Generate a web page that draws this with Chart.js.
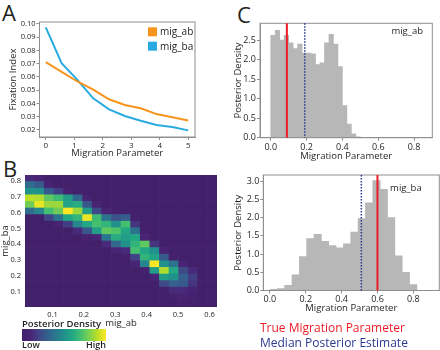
<!DOCTYPE html>
<html><head><meta charset="utf-8">
<script src="https://cdn.jsdelivr.net/npm/chart.js@4.4.1/dist/chart.umd.min.js"></script>
<style>
html,body{margin:0;padding:0;background:#fff}
body{width:440px;height:350px;position:relative;overflow:hidden;font-family:'Open Sans',sans-serif;color:#231f20}
canvas{position:absolute}
.t{position:absolute;white-space:nowrap}
.lbl{font-size:22px;line-height:22px}
</style></head><body>
<div class="t lbl" style="left:2px;top:1px">A</div>
<div class="t lbl" style="left:3px;top:157px">B</div>
<div class="t lbl" style="left:237px;top:3px">C</div>
<canvas id="cA" width="220" height="165" style="left:0;top:0"></canvas>
<canvas id="cB" width="220" height="185" style="left:0;top:165px"></canvas>
<canvas id="cC1" width="220" height="165" style="left:220px;top:0"></canvas>
<canvas id="cC2" width="220" height="150" style="left:220px;top:165px"></canvas>
<div class="t" style="left:22px;top:317px;height:14px;line-height:14px;font-size:9.5px;font-weight:600">Posterior Density</div>
<div id="cbar" style="position:absolute;left:22px;top:329px;width:84px;height:12px"></div>
<div class="t" style="left:22px;top:339px;height:12px;line-height:12px;font-size:9px;font-weight:600">Low</div>
<div class="t" style="left:76px;top:339px;width:30px;text-align:right;height:12px;line-height:12px;font-size:9px;font-weight:600">High</div>
<div class="t" style="left:260px;top:321px;height:14px;line-height:14px;font-size:12px;color:#ec1c24">True Migration Parameter</div>
<div class="t" style="left:260px;top:336px;height:14px;line-height:14px;font-size:12px;color:#2b3990">Median Posterior Estimate</div>
<script>
// ---------------- Panel A data ----------------
const migParam = [0, 0.556, 1.111, 1.667, 2.222, 2.778, 3.333, 3.889, 4.444, 5];
const fstAB = [0.0712, 0.0638, 0.0566, 0.0505, 0.0432, 0.0389, 0.0364, 0.0320, 0.0296, 0.0272];
const fstBA = [0.0975, 0.0705, 0.0578, 0.0439, 0.0356, 0.0306, 0.0270, 0.0238, 0.0222, 0.0197];
const aXTicks = [0, 1, 2, 3, 4, 5];
const aYTicks = [0.02, 0.03, 0.04, 0.05, 0.06, 0.07, 0.08, 0.09, 0.10];

// ---------------- Panel B data (2D posterior) ----------------
const hmXCenters = [0.0278, 0.0584, 0.0890, 0.1195, 0.1501, 0.1807, 0.2113, 0.2419, 0.2724, 0.3030,
                    0.3336, 0.3642, 0.3948, 0.4253, 0.4559, 0.4865, 0.5171, 0.5477, 0.5782, 0.6088];
const hmYEdges = [0.0054, 0.0469, 0.0885, 0.1300, 0.1715, 0.2131, 0.2546, 0.2961, 0.3376, 0.3792, 0.4207,
                  0.4622, 0.5038, 0.5453, 0.5868, 0.6284, 0.6699, 0.7114, 0.7529, 0.7945, 0.8360];
// rows listed from top (high mig_ba) to bottom
const hmDensity = [
 [.12,.10,0,0,0,0,0,0,0,0,0,0,0,0,0,0,0,0,0,0],
 [.35,.28,.08,0,0,0,0,0,0,0,0,0,0,0,0,0,0,0,0,0],
 [.50,.50,.28,.18,.06,0,0,0,0,0,0,0,0,0,0,0,0,0,0,0],
 [.90,.88,.75,.68,.55,.33,.08,0,0,0,0,0,0,0,0,0,0,0,0,0],
 [.78,.97,.85,.85,.58,.62,.27,.07,0,0,0,0,0,0,0,0,0,0,0,0],
 [.35,.45,.70,.78,1.0,.85,.55,.22,.08,.03,0,0,0,0,0,0,0,0,0,0],
 [0,0,.20,.38,.60,.65,.97,.68,.38,.25,.30,.03,0,0,0,0,0,0,0,0],
 [0,0,0,.08,.18,.45,.60,.70,.65,.50,.70,.15,0,0,0,0,0,0,0,0],
 [0,0,0,0,0,.12,.27,.55,.75,.72,.60,.38,.03,0,0,0,0,0,0,0],
 [0,0,0,0,0,0,.05,.10,.40,.62,.55,.60,.10,0,0,0,0,0,0,0],
 [0,0,0,0,0,0,0,0,.12,.33,.50,.65,.75,.15,0,0,0,0,0,0],
 [0,0,0,0,0,0,0,0,0,.10,.12,.70,.60,.50,.10,0,0,0,0,0],
 [0,0,0,0,0,0,0,0,0,0,.03,.20,.65,.58,.28,.03,0,0,0,0],
 [0,0,0,0,0,0,0,0,0,0,0,.10,.45,1.0,.50,.38,.10,0,0,0],
 [0,0,0,0,0,0,0,0,0,0,0,0,.05,.55,.88,.60,.22,.12,0,0],
 [0,0,0,0,0,0,0,0,0,0,0,0,0,.10,.55,.50,.30,.18,0,0],
 [0,0,0,0,0,0,0,0,0,0,0,0,0,0,.22,.30,.28,.15,0,0],
 [0,0,0,0,0,0,0,0,0,0,0,0,0,0,0,.12,.12,.08,0,0],
 [0,0,0,0,0,0,0,0,0,0,0,0,0,0,0,.04,.07,.04,0,0],
 [0,0,0,0,0,0,0,0,0,0,0,0,0,0,0,0,.04,.02,0,0]
];
const bXTicks = [0.1, 0.2, 0.3, 0.4, 0.5, 0.6];
const bYTicks = [0.1, 0.2, 0.3, 0.4, 0.5, 0.6, 0.7, 0.8];

// ---------------- Panel C data (posterior histograms) ----------------
const abBins = [0.0125, 0.0375, 0.0625, 0.0875, 0.1125, 0.1375, 0.1625, 0.1875, 0.2125, 0.2375,
                0.2625, 0.2875, 0.3125, 0.3375, 0.3625, 0.3875, 0.4125, 0.4375, 0.4625, 0.4875];
const abDensity = [2.62, 2.75, 2.50, 2.62, 2.43, 2.28, 2.40, 2.17, 2.17, 2.15,
                   1.87, 1.92, 2.43, 2.65, 2.40, 1.82, 0.82, 0.35, 0.10, 0.02];
const baBins = [0.0205, 0.0615, 0.1025, 0.1435, 0.1845, 0.2255, 0.2665, 0.3075, 0.3485, 0.3895,
                0.4305, 0.4715, 0.5125, 0.5535, 0.5945, 0.6355, 0.6765, 0.7175, 0.7585, 0.7995];
const baDensity = [0.03, 0.05, 0.14, 0.43, 0.93, 1.42, 1.54, 1.35, 1.23, 1.17,
                   1.28, 1.60, 1.97, 2.40, 3.01, 2.77, 2.00, 0.95, 0.50, 0.16];
const trueAB = 0.09, medianAB = 0.19;
const trueBA = 0.60, medianBA = 0.51;
const cXTicks = [0, 0.2, 0.4, 0.6, 0.8];
const c1YTicks = [0, 0.5, 1.0, 1.5, 2.0, 2.5];
const c2YTicks = [0, 0.5, 1.0, 1.5, 2.0, 2.5, 3.0];

// ---------------- helpers ----------------
const F = "'Open Sans', sans-serif";
const TXT = '#231f20';
const FRAME = '#8f8f8f';
const VIR = ['#43206a','#482475','#414487','#355f8d','#2a788e','#21918c','#22a884','#44bf70','#7ad151','#bddf26','#fde725'];
function h2r(h){return [1,3,5].map(i=>parseInt(h.slice(i,i+2),16));}
function viridis(t){
  t = Math.max(0, Math.min(1, t));
  const p = t*10, i = Math.min(9, Math.floor(p)), f = p - i;
  const a = h2r(VIR[i]), b = h2r(VIR[i+1]);
  return 'rgb(' + a.map((v,k)=>Math.round(v+(b[k]-v)*f)).join(',') + ')';
}
document.getElementById('cbar').style.background = 'linear-gradient(to right,' + VIR.join(',') + ')';

const framePlugin = {id:'frame', afterDatasetsDraw(chart, args, o){
  if (!o || !o.color) return;
  const {ctx, chartArea:a} = chart; ctx.save(); ctx.strokeStyle = o.color; ctx.lineWidth = 1;
  ctx.strokeRect(a.left, a.top, a.right-a.left, a.bottom-a.top); ctx.restore();
}};
const vlinePlugin = {id:'vlines', afterDatasetsDraw(chart, args, o){
  const {ctx, chartArea:a, scales} = chart;
  (o.lines||[]).forEach(l=>{
    const px = scales.x.getPixelForValue(l.value);
    ctx.save(); ctx.strokeStyle = l.color; ctx.lineWidth = l.width; ctx.setLineDash(l.dash||[]);
    ctx.beginPath(); ctx.moveTo(px, a.top); ctx.lineTo(px, a.bottom); ctx.stroke(); ctx.restore();
  });
}};
const cornerLabel = {id:'cornerLabel', afterDraw(chart, args, o){
  if (!o.text) return;
  const {ctx, chartArea:a} = chart; ctx.save(); ctx.font = '9.5px ' + F; ctx.fillStyle = TXT;
  ctx.textAlign = 'right'; ctx.textBaseline = 'middle'; ctx.fillText(o.text, a.right - o.dx, a.top + o.dy); ctx.restore();
}};
const boxLegend = {id:'boxLegend', afterDraw(chart, args, o){
  const {ctx, chartArea:a} = chart; ctx.save();
  chart.data.datasets.forEach((ds,i)=>{
    const x = a.right - o.right, y = a.top + o.top + i*o.gap;
    ctx.fillStyle = ds.borderColor; ctx.fillRect(x, y, o.box, o.box);
    ctx.fillStyle = TXT; ctx.font = '10px ' + F; ctx.textBaseline = 'middle'; ctx.textAlign = 'left';
    ctx.fillText(ds.label, x + o.box + 3, y + o.box/2 + 0.5);
  });
  ctx.restore();
}};
const setTicks = arr => s => { s.ticks = arr.map(v=>({value:v})); };
function axis(extra){
  return Object.assign({
    type:'linear', offset:false,
    grid:{display:true, drawOnChartArea:false, drawTicks:true, tickLength:3, color:FRAME, offset:false},
    border:{display:true, color:FRAME},
  }, extra);
}
const common = {responsive:false, animation:false, events:[]};
const noPlug = {legend:{display:false}, tooltip:{enabled:false}};

// ---------------- Panel A ----------------
new Chart(document.getElementById('cA'), {
  type:'line',
  data:{datasets:[
    {label:'mig_ab', data: migParam.map((x,i)=>({x:x, y:fstAB[i]})), borderColor:'#f7941d', borderWidth:2, pointRadius:0, tension:0, fill:false},
    {label:'mig_ba', data: migParam.map((x,i)=>({x:x, y:fstBA[i]})), borderColor:'#29abe2', borderWidth:2, pointRadius:0, tension:0, fill:false}
  ]},
  options: Object.assign({}, common, {
    layout:{padding:{left:0, top:22, right:25, bottom:5.6}},
    plugins: Object.assign({}, noPlug, {frame:{color:FRAME}, boxLegend:{right:47, top:5.3, gap:14.4, box:9}}),
    scales:{
      x: axis({min:-0.22, max:5.24, afterBuildTicks:setTicks(aXTicks), afterFit:s=>{s.height=22.4;},
        ticks:{font:{family:F,size:8}, color:TXT, padding:1, maxRotation:0, autoSkip:false, callback:v=>String(v)},
        title:{display:true, text:'Migration Parameter', font:{family:F,size:9.5}, color:TXT, padding:0}}),
      y: axis({min:0.0147, max:0.1015, afterBuildTicks:setTicks(aYTicks), afterFit:s=>{s.width=39.5;},
        ticks:{font:{family:F,size:7.5}, color:TXT, padding:1, autoSkip:false, callback:v=>v.toFixed(2)},
        title:{display:true, text:'Fixation Index', font:{family:F,size:9.5}, color:TXT, padding:{top:8,bottom:0}}})
    }
  }),
  plugins:[framePlugin, boxLegend]
});

// ---------------- Panel B ----------------
const cells = [];
hmDensity.forEach((row, r)=>{
  const yi = hmYEdges.length - 2 - r;
  row.forEach((v, c)=>{ cells.push({x: hmXCenters[c], y: [hmYEdges[yi], hmYEdges[yi+1]], v: v}); });
});
new Chart(document.getElementById('cB'), {
  type:'bar',
  data:{datasets:[{data: cells, backgroundColor: c => viridis(c.raw ? c.raw.v : 0), borderWidth:0,
    barPercentage:1, categoryPercentage:1, grouped:false}]},
  options: Object.assign({}, common, {
    layout:{padding:{left:0, top:10, right:3, bottom:20.6}},
    plugins: noPlug,
    scales:{
      x:{type:'linear', offset:false, z:1, min:0.0125, max:0.6241, afterBuildTicks:setTicks(bXTicks), afterFit:s=>{s.height=22.4;},
        grid:{display:true, drawOnChartArea:true, drawTicks:false, color:'rgba(255,255,255,0.13)', offset:false},
        border:{display:false},
        ticks:{font:{family:F,size:7.5}, color:TXT, padding:3, maxRotation:0, autoSkip:false, callback:v=>v.toFixed(1)},
        title:{display:true, text:'mig_ab', font:{family:F,size:9.5}, color:TXT, padding:0}},
      y:{type:'linear', z:1, min:0.0054, max:0.836, afterBuildTicks:setTicks(bYTicks), afterFit:s=>{s.width=25;},
        grid:{display:true, drawOnChartArea:true, drawTicks:false, color:'rgba(255,255,255,0.13)'},
        border:{display:false},
        ticks:{font:{family:F,size:7.5}, color:TXT, padding:4, autoSkip:false, callback:v=>v.toFixed(1)},
        title:{display:true, text:'mig_ba', font:{family:F,size:9.5}, color:TXT, padding:{top:0,bottom:0}}}
    }
  })
});

// ---------------- Panel C ----------------
function hist(id, bins, dens, xMin, xMax, yMax, yTicks, yW, xH, pad, label, lines){
  new Chart(document.getElementById(id), {
    type:'bar',
    data:{datasets:[{data: bins.map((x,i)=>({x:x, y:dens[i]})), backgroundColor:'#b7b7b7', borderWidth:0,
      barPercentage:1, categoryPercentage:1, grouped:false}]},
    options: Object.assign({}, common, {
      layout:{padding:pad},
      plugins: Object.assign({}, noPlug, {frame:{color:FRAME}, vlines:{lines:lines}, cornerLabel:label}),
      scales:{
        x: axis({min:xMin, max:xMax, afterBuildTicks:setTicks(cXTicks), afterFit:s=>{s.height=xH;},
          ticks:{font:{family:F,size:9}, color:TXT, padding:1, maxRotation:0, autoSkip:false, callback:v=>v.toFixed(1)},
          title:{display:true, text:'Migration Parameter', font:{family:F,size:9.5}, color:TXT, padding:0}}),
        y: axis({min:0, max:yMax, afterBuildTicks:setTicks(yTicks), afterFit:s=>{s.width=yW;},
          ticks:{font:{family:F,size:9}, color:TXT, padding:1, autoSkip:false, callback:v=>v.toFixed(1)},
          title:{display:true, text:'Posterior Density', font:{family:F,size:9.5}, color:TXT, padding:{top:12.9,bottom:0}}})
      }
    }),
    plugins:[framePlugin, vlinePlugin, cornerLabel]
  });
}
hist('cC1', abBins, abDensity, -0.06, 0.902, 2.93, c1YTicks, 40, 24.4, {left:0, top:23.3, right:7.7, bottom:2.9},
  {text:'mig_ab', dx:9.3, dy:8.4},
  [{value:trueAB, color:'#ec1c24', width:2}, {value:medianAB, color:'#2b3990', width:1.5, dash:[1.5,1.5]}]);
hist('cC2', baBins, baDensity, -0.037, 0.945, 3.165, c2YTicks, 43.3, 23.2, {left:0, top:10, right:0.7, bottom:1.3},
  {text:'mig_ba', dx:17.6, dy:13.3},
  [{value:trueBA, color:'#ec1c24', width:2}, {value:medianBA, color:'#2b3990', width:1.5, dash:[1.5,1.5]}]);
</script>
</body></html>
